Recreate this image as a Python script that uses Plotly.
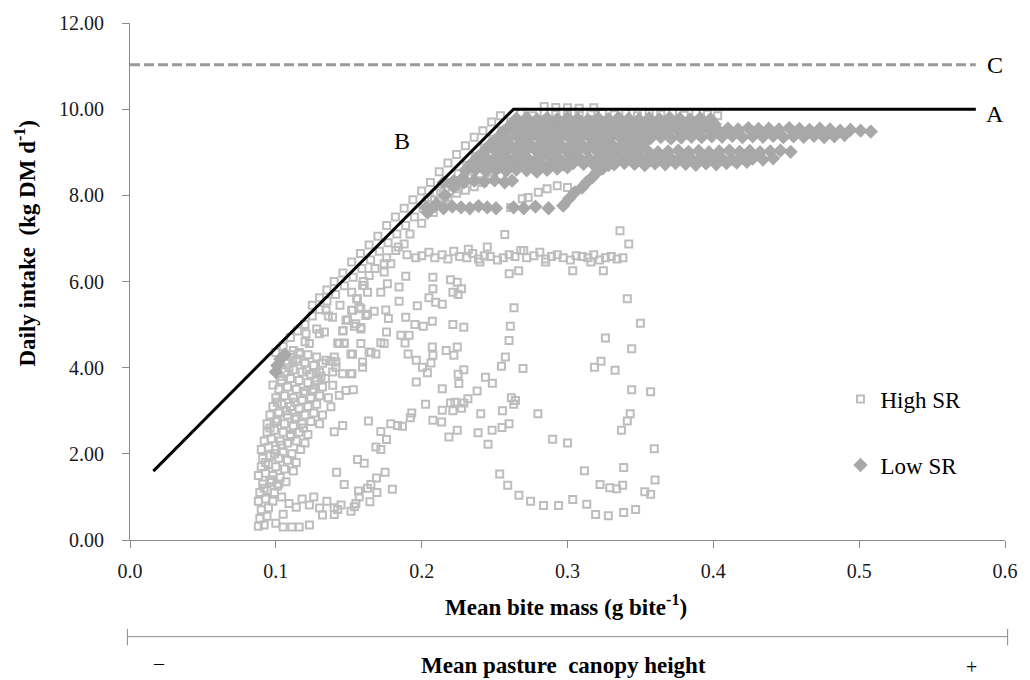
import plotly.graph_objects as go

# ---------------- data ----------------
# Reference lines (A/B plateau model, C dashed potential intake)
line_ab_x = [0.016, 0.263, 0.58]
line_ab_y = [1.6, 10.0, 10.0]
line_c_x = [0.0, 0.58]
line_c_y = [11.03, 11.03]

# High SR (open squares) - along line B
hs_diag_x = [0.125, 0.130, 0.135, 0.140, 0.146, 0.152, 0.158, 0.164, 0.170, 0.176, 0.182, 0.188, 0.194, 0.200, 0.206,
             0.212, 0.218, 0.224, 0.230, 0.236, 0.242, 0.248, 0.254,
             0.100, 0.105, 0.110, 0.115, 0.120, 0.125, 0.130, 0.135, 0.141, 0.147, 0.153, 0.159, 0.165, 0.171,
             0.177, 0.183, 0.189, 0.195, 0.201, 0.207, 0.213, 0.219, 0.225, 0.231, 0.237, 0.243, 0.249, 0.255, 0.261,
             0.112, 0.120, 0.128, 0.136, 0.144, 0.152, 0.160, 0.168, 0.176, 0.184, 0.192, 0.200, 0.208, 0.216,
             0.224, 0.232, 0.240, 0.248,
             0.204, 0.210, 0.216, 0.222, 0.228, 0.234, 0.240, 0.246, 0.252, 0.258,
             0.212, 0.218, 0.224, 0.230, 0.236, 0.242, 0.248, 0.254]
hs_diag_y = [5.45, 5.62, 5.8, 6.0, 6.2, 6.45, 6.65, 6.85, 7.05, 7.3, 7.5, 7.7, 7.9, 8.1, 8.3,
             8.55, 8.75, 8.95, 9.15, 9.35, 9.5, 9.7, 9.85,
             4.35, 4.5, 4.7, 4.85, 5.0, 5.2, 5.35, 5.55, 5.7, 5.9, 6.1, 6.3, 6.5, 6.7,
             6.9, 7.1, 7.3, 7.5, 7.7, 7.9, 8.1, 8.3, 8.5, 8.7, 8.9, 9.1, 9.3, 9.5, 9.7,
             4.4, 4.6, 4.9, 5.2, 5.45, 5.75, 6.0, 6.3, 6.55, 6.8, 7.1, 7.35, 7.6, 7.9,
             8.15, 8.45, 8.7, 9.0,
             7.95, 8.05, 8.12, 8.2, 8.28, 8.4, 8.5, 8.55, 8.62, 8.7,
             7.85, 7.95, 8.05, 8.12, 8.2, 8.3, 8.38, 8.45]

# High SR - points under the diagonal
hs_under_x = [0.1606, 0.1629, 0.156, 0.1572, 0.1526, 0.1617, 0.1481, 0.1538, 0.1583, 0.1458, 0.1333, 0.1389,
              0.1344, 0.1435, 0.1469, 0.1583, 0.1401, 0.1526, 0.1652, 0.1595, 0.1515, 0.1276, 0.1162, 0.1116,
              0.123, 0.1298, 0.1207, 0.1344, 0.1412, 0.1822, 0.188, 0.1743, 0.1788, 0.164, 0.1743, 0.1595,
              0.172, 0.1765]
hs_under_y = [5.91, 5.75, 5.60, 5.40, 5.33, 5.21, 5.10, 4.96, 4.93, 4.85, 4.83, 5.17,
              5.33, 4.56, 4.56, 4.56, 4.25, 4.31, 4.36, 4.13, 3.86, 3.86, 4.32, 4.17,
              4.56, 4.79, 4.79, 4.17, 4.01, 6.72, 6.87, 6.41, 6.41, 6.14, 6.22, 5.91,
              5.75, 5.95]

# High SR - dense left column
hs_col_x = [0.088, 0.092, 0.089, 0.094, 0.090, 0.095, 0.088, 0.093, 0.098, 0.089, 0.094, 0.099, 0.091, 0.096,
            0.101, 0.088, 0.093, 0.098, 0.103,
            0.100, 0.105, 0.111, 0.116, 0.123, 0.114, 0.123, 0.130, 0.132, 0.105, 0.109, 0.104, 0.118, 0.126,
            0.135, 0.140,
            0.090, 0.095, 0.100, 0.106, 0.112, 0.091, 0.096, 0.102, 0.108, 0.114, 0.090, 0.095, 0.100, 0.105,
            0.111, 0.117, 0.092, 0.097, 0.103, 0.108, 0.114, 0.120, 0.094, 0.099, 0.105, 0.110, 0.116, 0.122,
            0.094, 0.100, 0.106, 0.112, 0.118, 0.124, 0.130, 0.096, 0.102, 0.108, 0.114, 0.120, 0.126, 0.132,
            0.098, 0.104, 0.110, 0.116, 0.122, 0.128, 0.100, 0.106, 0.112, 0.118, 0.124, 0.130, 0.136,
            0.102, 0.108, 0.114, 0.120, 0.126, 0.132,
            0.104, 0.110, 0.116, 0.122, 0.128, 0.134, 0.106, 0.112, 0.118, 0.124, 0.130,
            0.108, 0.114, 0.120, 0.126, 0.132, 0.138, 0.110, 0.116, 0.122, 0.128,
            0.092, 0.097, 0.102, 0.107, 0.093, 0.099, 0.104, 0.110, 0.096, 0.101, 0.107, 0.113, 0.119,
            0.098, 0.103, 0.109, 0.115, 0.121, 0.127, 0.101, 0.107, 0.113, 0.119, 0.125, 0.131]
hs_col_y = [0.32, 0.35, 0.5, 0.55, 0.7, 0.75, 0.9, 0.95, 0.9, 1.1, 1.15, 1.1, 1.3, 1.35,
            1.25, 1.5, 1.55, 1.5, 1.45,
            0.39, 0.30, 0.30, 0.30, 0.35, 0.76, 0.81, 0.74, 0.58, 0.6, 0.85, 1.0, 0.95, 1.0,
            0.9, 0.75,
            1.7, 1.75, 1.7, 1.65, 1.6, 1.9, 1.95, 1.9, 1.85, 1.8, 2.1, 2.15, 2.1, 2.05,
            2.0, 2.1, 2.3, 2.35, 2.3, 2.25, 2.3, 2.25, 2.5, 2.55, 2.5, 2.45, 2.5, 2.45,
            2.7, 2.75, 2.7, 2.65, 2.7, 2.75, 2.7, 2.9, 2.95, 2.9, 2.85, 2.9, 2.95, 2.9,
            3.1, 3.15, 3.1, 3.05, 3.1, 3.15, 3.3, 3.35, 3.3, 3.25, 3.3, 3.35, 3.3,
            3.5, 3.55, 3.5, 3.45, 3.5, 3.55,
            3.7, 3.75, 3.7, 3.65, 3.7, 3.75, 3.9, 3.95, 3.9, 3.85, 3.9,
            4.1, 4.15, 4.1, 4.05, 4.1, 4.15, 4.3, 4.35, 4.3, 4.25,
            1.2, 1.4, 1.3, 1.35, 1.8, 2.0, 2.2, 2.4, 2.6, 2.8, 3.0, 3.2, 3.4,
            3.6, 3.8, 4.0, 4.2, 3.95, 3.6, 3.2, 3.0, 2.8, 2.6, 3.45, 3.8]

# High SR - horizontal band near 6.6
hs_band_x = [0.190, 0.196, 0.200, 0.205, 0.209, 0.214, 0.218, 0.222, 0.226, 0.231, 0.235, 0.239, 0.243, 0.247,
             0.252, 0.256, 0.260, 0.264, 0.268, 0.272, 0.277, 0.281, 0.285, 0.289, 0.293, 0.297, 0.302, 0.306,
             0.310, 0.314, 0.318, 0.322, 0.326, 0.330, 0.334, 0.338,
             0.257, 0.336, 0.342, 0.260, 0.2665, 0.3036, 0.3246, 0.232, 0.245, 0.270, 0.240, 0.285, 0.316]
hs_band_y = [6.62, 6.55, 6.6, 6.68, 6.55, 6.62, 6.52, 6.7, 6.58, 6.55, 6.65, 6.52, 6.6, 6.58,
             6.5, 6.55, 6.62, 6.58, 6.72, 6.55, 6.6, 6.68, 6.52, 6.58, 6.62, 6.55, 6.5, 6.6,
             6.58, 6.55, 6.62, 6.5, 6.55, 6.58, 6.52, 6.55,
             7.09, 7.18, 6.87, 6.18, 6.25, 6.25, 6.25, 6.75, 6.8, 6.72, 6.45, 6.45, 6.45]

# High SR - loops and arcs in the middle / right
hs_mid_x = [0.341, 0.350, 0.326, 0.344, 0.323, 0.3185, 0.3326, 0.344, 0.357, 0.343, 0.341, 0.337, 0.3595,
            0.3385, 0.360, 0.3223, 0.329, 0.3337, 0.3378, 0.353, 0.357, 0.3467, 0.3385, 0.328, 0.3193, 0.3132,
            0.3036, 0.3116, 0.300, 0.2898, 0.2939, 0.2836, 0.2747, 0.2667, 0.259, 0.2535, 0.2797,
            0.2633, 0.2608, 0.2599, 0.2574, 0.2547, 0.2695, 0.2615, 0.2643, 0.2631, 0.2554, 0.2599, 0.2551,
            0.2483, 0.2455, 0.2387, 0.2405, 0.238, 0.2437, 0.2485, 0.2317, 0.2289, 0.2273, 0.2244, 0.2187,
            0.2214, 0.2198, 0.2228, 0.2141, 0.2137, 0.2077, 0.2141, 0.2027, 0.1932, 0.1922, 0.1868, 0.1834,
            0.1788, 0.225, 0.2255, 0.2289, 0.2244, 0.2221, 0.2168, 0.2073, 0.2077, 0.2064, 0.2039, 0.2005,
            0.1963, 0.1907, 0.1963, 0.2073, 0.2011, 0.1954, 0.2214, 0.2289, 0.2077, 0.2077, 0.205, 0.2096,
            0.2141, 0.197, 0.2198, 0.2244, 0.2273, 0.225, 0.2214, 0.1891, 0.1845, 0.1845, 0.1891, 0.1886,
            0.1857, 0.1914, 0.1754, 0.1772, 0.1759, 0.1743, 0.172, 0.1674, 0.1629, 0.1583, 0.1554, 0.152,
            0.1492, 0.1549, 0.1583, 0.1462, 0.1424, 0.1469, 0.164, 0.1686, 0.1515, 0.1412, 0.1595,
            0.139, 0.1458, 0.1522, 0.139, 0.1435, 0.1481, 0.1531, 0.1378, 0.1458, 0.1401, 0.1635, 0.172,
            0.1759, 0.1686, 0.172, 0.156, 0.1606, 0.1417, 0.1749, 0.169, 0.1469, 0.1652, 0.1629, 0.1799,
            0.1567, 0.1693, 0.1572, 0.1645, 0.1549, 0.1447, 0.1538, 0.1424, 0.1515, 0.1401]
hs_mid_y = [5.6, 5.03, 4.69, 4.44, 4.15, 4.01, 3.94, 3.49, 3.44, 2.93, 2.76, 2.55, 2.12,
            1.68, 1.39, 1.29, 1.21, 1.19, 1.27, 1.12, 1.06, 0.71, 0.64, 0.56, 0.59, 0.83,
            0.94, 1.61, 2.25, 2.34, 0.80, 0.80, 0.90, 1.04, 1.27, 1.53, 2.93,
            5.39, 4.96, 4.63, 4.25, 4.03, 3.98, 3.30, 3.24, 3.15, 3.0, 2.70, 2.61,
            2.55, 2.22, 2.49, 2.93, 3.46, 3.78, 3.64, 3.28, 3.18, 3.06, 2.55, 2.39,
            3.0, 3.18, 3.20, 3.01, 2.74, 2.78, 3.51, 3.15, 2.95, 2.84, 2.64, 2.66,
            2.70, 3.85, 3.63, 3.95, 4.48, 4.29, 4.40, 4.48, 4.29, 4.11, 3.88, 4.01,
            4.17, 4.32, 3.67, 5.08, 4.96, 5.0, 5.0, 4.94, 5.83, 6.10, 5.62, 5.52,
            5.47, 5.44, 6.04, 5.98, 5.83, 5.70, 5.75, 6.12, 5.87, 5.54, 5.17, 4.57,
            4.75, 4.75, 5.34, 5.14, 4.83, 4.56, 4.58, 5.31, 5.24, 5.37, 5.60, 5.33,
            5.11, 5.02, 4.90, 4.86, 4.57, 4.57, 4.36, 4.32, 4.32, 4.13, 4.01,
            3.90, 3.86, 3.86, 3.59, 3.36, 3.47, 3.49, 3.09, 2.66, 2.51, 2.76, 2.52,
            2.33, 2.16, 2.10, 1.87, 1.78, 1.57, 1.57, 1.44, 1.29, 1.29, 1.20, 1.18,
            1.14, 1.10, 1.00, 0.89, 0.85, 0.81, 0.77, 0.71, 0.67, 0.59]

# High SR - squares in the upper band
hs_top_x = [0.268, 0.276, 0.284, 0.292, 0.300, 0.308, 0.316, 0.324, 0.332, 0.340, 0.348, 0.356, 0.364, 0.372,
            0.380, 0.388, 0.396, 0.403, 0.284, 0.292, 0.300, 0.308, 0.318,
            0.261, 0.269, 0.273, 0.280, 0.286, 0.293, 0.300]
hs_top_y = [9.9, 9.85, 9.92, 9.88, 9.9, 9.86, 9.92, 9.9, 9.87, 9.9, 9.85, 9.9, 9.88, 9.92,
            9.86, 9.9, 9.88, 9.85, 10.06, 10.04, 10.03, 10.02, 10.03,
            7.72, 7.92, 7.95, 8.07, 8.15, 8.22, 8.18]

# Low SR (filled diamonds)
ls_diag_x = [0.100, 0.101, 0.103, 0.106, 0.204, 0.210, 0.216, 0.222, 0.228]
ls_diag_y = [3.9, 4.05, 4.2, 4.3, 7.6, 7.8, 8.0, 8.2, 8.4]
ls_rows_x = [0.215, 0.222, 0.229, 0.236, 0.243, 0.250, 0.257, 0.262,
             0.203, 0.209, 0.215, 0.221, 0.227, 0.233, 0.239, 0.245, 0.251, 0.263, 0.270, 0.278, 0.287,
             0.297, 0.301, 0.305, 0.310, 0.313, 0.317, 0.320, 0.324, 0.328]
ls_rows_y = [8.3, 8.33, 8.3, 8.34, 8.32, 8.35, 8.3, 8.34,
             7.72, 7.75, 7.7, 7.74, 7.72, 7.7, 7.75, 7.72, 7.7, 7.72, 7.7, 7.74, 7.7,
             7.76, 7.92, 8.07, 8.18, 8.30, 8.42, 8.53, 8.62, 8.7]
ls_band_x = [0.265, 0.272, 0.279, 0.286, 0.293, 0.300, 0.307, 0.314, 0.321, 0.328, 0.335, 0.342, 0.349, 0.356,
             0.363, 0.370, 0.377, 0.384, 0.391, 0.398,
             0.261, 0.268, 0.275, 0.282, 0.289, 0.296, 0.303, 0.310, 0.317, 0.324, 0.331, 0.338, 0.345, 0.352,
             0.359, 0.366, 0.373, 0.380, 0.387, 0.394, 0.401,
             0.256, 0.263, 0.270, 0.277, 0.284, 0.291, 0.298, 0.305, 0.312, 0.319, 0.326, 0.333, 0.340, 0.347,
             0.354, 0.361, 0.368, 0.375, 0.382, 0.389, 0.396, 0.403, 0.410, 0.417, 0.424, 0.431, 0.438, 0.445,
             0.452, 0.459, 0.466, 0.473, 0.480, 0.487, 0.494, 0.501, 0.508,
             0.252, 0.259, 0.266, 0.273, 0.280, 0.287, 0.294, 0.301, 0.308, 0.315, 0.322, 0.329, 0.336, 0.343,
             0.350, 0.357, 0.364, 0.371, 0.378, 0.385, 0.392, 0.399, 0.406, 0.413, 0.420, 0.427, 0.434, 0.441,
             0.448, 0.455, 0.462, 0.469, 0.476, 0.483, 0.490,
             0.247, 0.254, 0.261, 0.268, 0.275, 0.282, 0.289, 0.296, 0.303, 0.310, 0.317, 0.324, 0.331, 0.338,
             0.345, 0.352,
             0.243, 0.250, 0.257, 0.264, 0.271, 0.278, 0.285, 0.292, 0.299, 0.306, 0.313, 0.320, 0.327, 0.334,
             0.341, 0.348, 0.355, 0.362, 0.369, 0.376, 0.383, 0.390, 0.397, 0.404, 0.411, 0.418, 0.425, 0.432,
             0.439, 0.446, 0.453,
             0.238, 0.245, 0.252, 0.259, 0.266, 0.273, 0.280, 0.287, 0.294, 0.301, 0.308, 0.315, 0.322, 0.329,
             0.336, 0.343, 0.350, 0.357, 0.364, 0.371, 0.378, 0.385, 0.392, 0.399, 0.406, 0.413, 0.420, 0.427,
             0.434, 0.441,
             0.234, 0.241, 0.248, 0.255, 0.262, 0.269, 0.276, 0.283, 0.290, 0.297, 0.304, 0.311, 0.318, 0.325,
             0.332, 0.339, 0.346, 0.353, 0.360, 0.367, 0.374, 0.381, 0.388, 0.395, 0.402, 0.409, 0.416, 0.423,
             0.230, 0.237, 0.244, 0.251, 0.258, 0.265, 0.272, 0.279, 0.286, 0.293, 0.300]
ls_band_y = [9.78, 9.8, 9.76, 9.79, 9.77, 9.8, 9.78, 9.75, 9.79, 9.77, 9.8, 9.78, 9.76, 9.79,
             9.77, 9.8, 9.78, 9.76, 9.79, 9.77,
             9.63, 9.65, 9.61, 9.64, 9.62, 9.65, 9.63, 9.6, 9.64, 9.62, 9.65, 9.63, 9.61, 9.64,
             9.62, 9.65, 9.63, 9.6, 9.64, 9.62, 9.65,
             9.48, 9.5, 9.46, 9.49, 9.47, 9.5, 9.48, 9.45, 9.49, 9.47, 9.5, 9.48, 9.46, 9.5,
             9.47, 9.49, 9.48, 9.52, 9.5, 9.53, 9.55, 9.52, 9.55, 9.53, 9.56, 9.54, 9.55, 9.53,
             9.56, 9.54, 9.52, 9.55, 9.53, 9.5, 9.52, 9.5, 9.48,
             9.33, 9.31, 9.34, 9.32, 9.35, 9.33, 9.3, 9.34, 9.32, 9.35, 9.31, 9.33, 9.34, 9.32,
             9.3, 9.33, 9.35, 9.32, 9.34, 9.36, 9.35, 9.37, 9.36, 9.38, 9.35, 9.37, 9.36, 9.38,
             9.35, 9.37, 9.36, 9.38, 9.35, 9.37, 9.4,
             9.18, 9.2, 9.16, 9.19, 9.17, 9.2, 9.18, 9.15, 9.19, 9.17, 9.2, 9.18, 9.16, 9.19,
             9.17, 9.2,
             9.03, 9.05, 9.01, 9.04, 9.02, 9.05, 9.03, 9.0, 9.04, 9.02, 9.05, 9.03, 9.01, 9.04,
             9.02, 9.05, 9.03, 9.0, 9.02, 9.04, 9.01, 9.03, 9.0, 9.02, 9.04, 9.01, 9.03, 9.0,
             9.02, 9.04, 9.01,
             8.88, 8.86, 8.9, 8.87, 8.89, 8.85, 8.88, 8.9, 8.86, 8.89, 8.87, 8.85, 8.88, 8.9,
             8.86, 8.89, 8.87, 8.85, 8.88, 8.86, 8.89, 8.85, 8.87, 8.88, 8.86, 8.84, 8.87, 8.85,
             8.83, 8.86,
             8.73, 8.75, 8.71, 8.74, 8.72, 8.75, 8.73, 8.7, 8.74, 8.72, 8.75, 8.73, 8.71, 8.74,
             8.72, 8.75, 8.73, 8.7, 8.74, 8.72, 8.75, 8.73, 8.71, 8.74, 8.72, 8.75, 8.76, 8.78,
             8.58, 8.6, 8.56, 8.59, 8.57, 8.6, 8.58, 8.55, 8.59, 8.62, 8.65]

series_names = ["High SR", "Low SR"]
x_ticks = [0.0, 0.1, 0.2, 0.3, 0.4, 0.5, 0.6]
y_ticks = [0, 2, 4, 6, 8, 10, 12]
line_labels = ["A", "B", "C"]

high_x = hs_diag_x + hs_under_x + hs_col_x + hs_band_x + hs_mid_x + hs_top_x
high_y = hs_diag_y + hs_under_y + hs_col_y + hs_band_y + hs_mid_y + hs_top_y
low_x = ls_diag_x + ls_rows_x + ls_band_x
low_y = ls_diag_y + ls_rows_y + ls_band_y

# ---------------- figure ----------------
FONT = "Liberation Serif, Times New Roman, serif"
fig = go.Figure()

fig.add_trace(go.Scatter(
    x=high_x, y=high_y, mode="markers", name=series_names[0], legendgroup="h",
    marker=dict(symbol="square-open", size=7, color="#BDBDBD", line=dict(width=2, color="#BDBDBD"))))
fig.add_trace(go.Scatter(
    x=low_x, y=low_y, mode="markers", name=series_names[1], legendgroup="l",
    marker=dict(symbol="diamond", size=11, color="#A8A8A8", line=dict(width=0))))
fig.add_trace(go.Scatter(
    x=line_c_x, y=line_c_y, mode="lines", showlegend=False,
    line=dict(color="#9A9A9A", width=3, dash="10px,4px")))
fig.add_trace(go.Scatter(
    x=line_ab_x, y=line_ab_y, mode="lines", showlegend=False,
    line=dict(color="#000000", width=3)))

axis_font = dict(family=FONT, size=20, color="#1a1a1a")
fig.update_xaxes(range=[0, 0.6], tickvals=x_ticks, tickformat=".1f", ticks="outside", ticklen=7,
                 tickcolor="#8a8a8a", showline=True, linecolor="#8a8a8a", linewidth=1,
                 showgrid=False, zeroline=False, tickfont=axis_font, ticklabelstandoff=6)
fig.update_yaxes(range=[0, 12], tickvals=y_ticks, tickformat=".2f", ticks="outside", ticklen=7,
                 tickcolor="#8a8a8a", showline=True, linecolor="#8a8a8a", linewidth=1,
                 showgrid=False, zeroline=False, tickfont=axis_font, ticklabelstandoff=14)

title_font = dict(family=FONT, size=23, color="#000")
sign_font = dict(family=FONT, size=20, color="#000")
label_font = dict(family=FONT, size=24, color="#000")
annots = [
    dict(text="<b>Daily intake  (kg DM d<sup>-1</sup>)</b>", xref="paper", yref="paper",
         x=-0.119, y=0.575, textangle=-90, showarrow=False, xanchor="center", yanchor="middle",
         font=title_font),
    dict(text="<b>Mean bite mass (g bite<sup>-1</sup>)</b>", xref="paper", yref="paper",
         x=0.498, y=-0.127, showarrow=False, xanchor="center", yanchor="middle", font=title_font),
    dict(text="<b>Mean pasture  canopy height</b>", xref="paper", yref="paper",
         x=0.495, y=-0.242, showarrow=False, xanchor="center", yanchor="middle", font=title_font),
    dict(text="–", xref="paper", yref="paper", x=0.033, y=-0.237, showarrow=False,
         xanchor="center", yanchor="middle", font=sign_font),
    dict(text="+", xref="paper", yref="paper", x=0.962, y=-0.246, showarrow=False,
         xanchor="center", yanchor="middle", font=sign_font),
    dict(text=line_labels[0], xref="paper", yref="paper", x=0.988, y=0.824, showarrow=False,
         xanchor="center", yanchor="middle", font=label_font),
    dict(text=line_labels[1], xref="paper", yref="paper", x=0.311, y=0.772, showarrow=False,
         xanchor="center", yanchor="middle", font=label_font),
    dict(text=line_labels[2], xref="paper", yref="paper", x=0.988, y=0.919, showarrow=False,
         xanchor="center", yanchor="middle", font=label_font),
]

bar_y = -0.187
shapes = [
    dict(type="line", xref="paper", yref="paper", x0=-0.003, x1=1.003, y0=bar_y, y1=bar_y,
         line=dict(color="#8a8a8a", width=1)),
    dict(type="line", xref="paper", yref="paper", x0=-0.003, x1=-0.003, y0=bar_y + 0.015, y1=bar_y - 0.017,
         line=dict(color="#8a8a8a", width=1)),
    dict(type="line", xref="paper", yref="paper", x0=1.003, x1=1.003, y0=bar_y + 0.015, y1=bar_y - 0.017,
         line=dict(color="#8a8a8a", width=1)),
]

fig.update_layout(
    width=1030, height=680,
    margin=dict(l=130, r=22, t=22, b=140),
    paper_bgcolor="white", plot_bgcolor="white",
    font=dict(family=FONT, color="#000"),
    showlegend=True,
    legend=dict(x=0.812, y=0.314, xanchor="left", yanchor="top", bgcolor="rgba(0,0,0,0)",
                font=dict(family=FONT, size=23, color="#000"), tracegroupgap=33,
                traceorder="grouped", itemwidth=30),
    annotations=annots, shapes=shapes,
)

fig.write_html("out.html")
